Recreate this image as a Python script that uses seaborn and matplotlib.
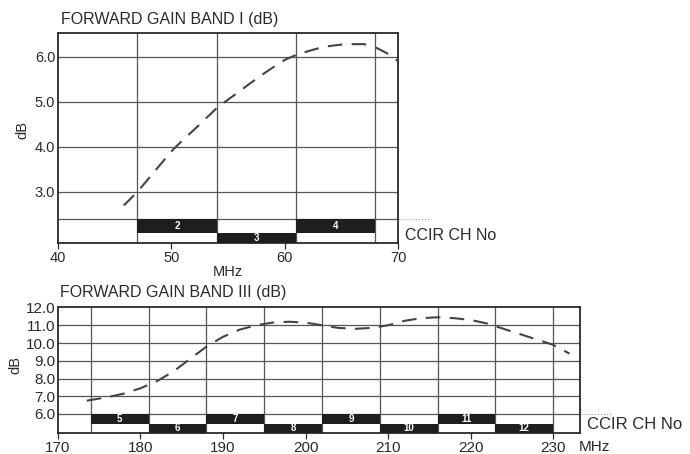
import numpy as np
import pandas as pd
import matplotlib
matplotlib.use("Agg")
import matplotlib.pyplot as plt
import seaborn as sns

# ==========================================================
# DATA
# ==========================================================

# band I gain curve
band1_freq = [45.8, 47, 48, 49, 50, 51, 52, 53, 54, 55, 56, 57, 58,
              59, 60, 61, 62, 63, 64, 65, 66, 67, 68, 69, 70]
band1_gain = [2.7, 3.0, 3.3, 3.6, 3.9, 4.15, 4.38, 4.62, 4.86, 5.05, 5.23,
              5.42, 5.6, 5.77, 5.93, 6.04, 6.12, 6.19, 6.24, 6.27, 6.28,
              6.28, 6.21, 6.08, 5.9]

# band III gain curve
band3_freq = [173.5, 176, 178, 180, 182, 184, 186, 188, 190, 192, 194, 196,
              198, 200, 202, 204, 206, 208, 210, 212, 214, 216, 218, 220,
              222, 224, 226, 228, 230, 232]
band3_gain = [6.75, 6.95, 7.15, 7.45, 7.85, 8.4, 9.1, 9.8, 10.35, 10.75,
              11.0, 11.15, 11.2, 11.15, 11.0, 10.85, 10.8, 10.85, 11.0,
              11.25, 11.4, 11.45, 11.4, 11.3, 11.1, 10.8, 10.5, 10.2, 9.9, 9.4]

# CCIR channels (number, start MHz, row 0 = upper / 1 = lower)
band1_channels = ["2", "3", "4"]
band1_starts = [47, 54, 61]
band1_rows = [0, 1, 0]

band3_channels = ["5", "6", "7", "8", "9", "10", "11", "12"]
band3_starts = [174, 181, 188, 195, 202, 209, 216, 223]
band3_rows = [0, 1, 0, 1, 0, 1, 0, 1]

channel_width = 7

band1_xticks = [40, 50, 60, 70]
band1_yticks = [3.0, 4.0, 5.0, 6.0]
band3_xticks = [170, 180, 190, 200, 210, 220, 230]
band3_yticks = [6.0, 7.0, 8.0, 9.0, 10.0, 11.0, 12.0]

# ==========================================================
# STYLE
# ==========================================================

sns.set_theme(style="white")
plt.rcParams["font.family"] = ["Liberation Sans", "DejaVu Sans"]

INK = "#2a2a2a"
GRID = "#555555"

fig = plt.figure(figsize=(6.9, 4.54), dpi=100)
ax1 = fig.add_axes([0.084, 0.465, 0.493, 0.4626])
ax3 = fig.add_axes([0.084, 0.0463, 0.757, 0.2775])


def draw_channels(ax, names, starts, rows, row_edges, fsize):
    for name, start, row in zip(names, starts, rows):
        top, bottom = row_edges[row], row_edges[row + 1]
        ax.bar(start, top - bottom, bottom=bottom, width=channel_width,
               align="edge", color="#1e1e1e", edgecolor="none", zorder=3)
        ax.text(start + channel_width / 2, (top + bottom) / 2, name,
                color="white", fontsize=fsize, fontweight="bold",
                ha="center", va="center", zorder=4)


def frame(ax):
    for side in ax.spines.values():
        side.set_visible(True)
        side.set_color(INK)
        side.set_linewidth(1.3)
    ax.tick_params(axis="x", direction="out", length=4, width=0.9,
                   color=INK, pad=2, bottom=True)
    ax.tick_params(axis="y", length=0, pad=2)


# ==========================================================
# BAND I
# ==========================================================

ax = ax1
for gx in band1_starts + [band1_starts[-1] + channel_width]:
    ax.axvline(gx, color=GRID, lw=0.9, zorder=1)
for gy in band1_yticks + [2.4]:
    ax.axhline(gy, color=GRID, lw=0.9, zorder=1)
ax.plot([70, 72.8], [2.4, 2.4], color="#999999", lw=0.8, ls=":",
        clip_on=False)

draw_channels(ax, band1_channels, band1_starts, band1_rows,
              [2.4, 2.1, 1.87], 7)

sns.lineplot(x=band1_freq, y=band1_gain, ax=ax, color="#444444", lw=1.5,
             zorder=5)
ax.lines[-1].set_dashes([7, 4.5])

ax.set_xlim(40, 70)
ax.set_ylim(1.87, 6.53)
ax.set_xticks(band1_xticks)
ax.set_yticks(band1_yticks)
ax.set_xticklabels([str(v) for v in band1_xticks], fontsize=10.5, color=INK)
ax.set_yticklabels([f"{v:.1f}" for v in band1_yticks], fontsize=10.5,
                   color=INK)
frame(ax)

fig.text(0.089, 0.958, "FORWARD GAIN BAND I (dB)", fontsize=11.5,
         color=INK, va="center")
fig.text(0.032, 0.714, "dB", fontsize=10.5, color=INK, rotation=90,
         ha="center", va="center")
fig.text(0.33, 0.401, "MHz", fontsize=10.5, color=INK, ha="center",
         va="center")
fig.text(0.587, 0.482, "CCIR CH No", fontsize=11.5, color=INK, va="center")

# ==========================================================
# BAND III
# ==========================================================

ax = ax3
for gx in band3_starts + [band3_starts[-1] + channel_width]:
    ax.axvline(gx, color=GRID, lw=0.9, zorder=1)
for gy in band3_yticks[:-1]:
    ax.axhline(gy, color=GRID, lw=0.9, zorder=1)
ax.plot([233.3, 237.2], [6.0, 6.0], color="#999999", lw=0.8, ls=":",
        clip_on=False)

draw_channels(ax, band3_channels, band3_starts, band3_rows,
              [6.0, 5.45, 4.93], 7)

sns.lineplot(x=band3_freq, y=band3_gain, ax=ax, color="#444444", lw=1.5,
             zorder=5)
ax.lines[-1].set_dashes([7, 4.5])

ax.set_xlim(170, 233.3)
ax.set_ylim(4.93, 12.03)
ax.set_xticks(band3_xticks)
ax.set_yticks(band3_yticks)
ax.set_xticklabels([str(v) for v in band3_xticks], fontsize=11, color=INK)
ax.set_yticklabels([f"{v:.1f}" for v in band3_yticks], fontsize=11,
                   color=INK)
frame(ax)

fig.text(0.087, 0.355, "FORWARD GAIN BAND III (dB)", fontsize=11.5,
         color=INK, va="center")
fig.text(0.022, 0.196, "dB", fontsize=10.5, color=INK, rotation=90,
         ha="center", va="center")
fig.text(0.862, 0.015, "MHz", fontsize=11, color=INK, ha="center",
         va="center")
fig.text(0.851, 0.064, "CCIR CH No", fontsize=12, color=INK, va="center")

fig.savefig("out.png", dpi=100)
